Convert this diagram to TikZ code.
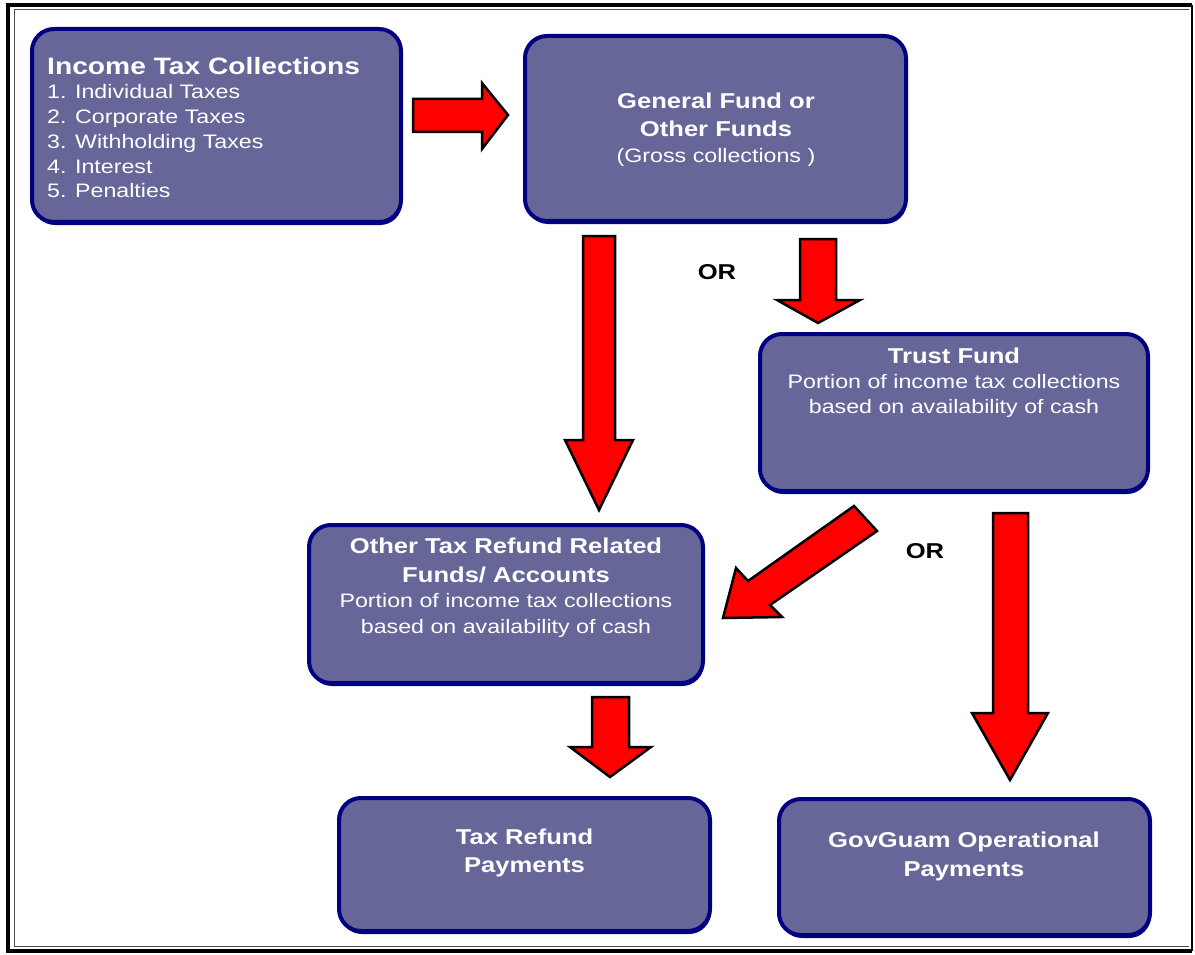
\documentclass[tikz,border=0pt]{standalone}
\usepackage{fontspec}
\setmainfont[FakeStretch=1.19]{Liberation Sans}
\usetikzlibrary{shadows}
\definecolor{boxfill}{HTML}{666699}
\definecolor{boxline}{HTML}{000080}
\newcommand\bft[1]{{\bfseries\fontsize{21.5}{25}\selectfont #1}}
\begin{document}
\begin{tikzpicture}[x=1pt,y=-1pt,
  fund/.style={draw=boxline, line width=4pt, fill=boxfill, rounded corners=22pt, inner sep=0pt,
    drop shadow={shadow xshift=1pt, shadow yshift=-3pt, fill=boxline, opacity=1}},
  blk/.style={draw=black, line width=2.5pt, fill=red, line join=miter},
  txt/.style={text=white, align=center, inner sep=0pt, anchor=base, font=\fontsize{19.5}{25}\selectfont},
  ortext/.style={font=\bfseries\fontsize{21.5}{26}\selectfont, inner sep=0pt, anchor=base}
]
\useasboundingbox (0,0) rectangle (1195,955);
% frame
\draw[line width=4pt] (1192,5) -- (8,5) -- (8,951) -- (1192,951);
\draw[line width=1.5pt] (1192,5) -- (1192,951);
\draw[line width=1pt, black!70] (1189,10) -- (14,10) -- (14,946) -- (1189,946);

% boxes
\node[fund, minimum width=369pt, minimum height=193pt] (income) at (216.5,125.5) {};
\node[fund, minimum width=381pt, minimum height=185pt] (general) at (715.5,128.5) {};
\node[fund, minimum width=388pt, minimum height=157pt] (trust) at (954,412.5) {};
\node[fund, minimum width=394pt, minimum height=158pt] (other) at (506,604) {};
\node[fund, minimum width=371pt, minimum height=133pt] (refund) at (524.5,864.5) {};
\node[fund, minimum width=371pt, minimum height=136pt] (govguam) at (964.5,867) {};

% texts (anchored at the baseline of their last line)
\node[txt, anchor=base west, align=left, font=\fontsize{19.5}{24.8}\selectfont] (incometxt) at (47,198)
  {{\bfseries\fontsize{23.7}{25}\selectfont Income Tax Collections}\\1. Individual Taxes\\2. Corporate Taxes\\3. Withholding Taxes\\4. Interest\\5. Penalties};
\node[txt, font=\fontsize{19.5}{26}\selectfont] (generaltxt) at (716,163)
  {\bft{General Fund or}\\[2pt]\bft{Other Funds}\\(Gross collections )};
\node[txt] (trusttxt) at (954,413)
  {\bft{Trust Fund}\\Portion of income tax collections\\based on availability of cash};
\node[txt] (othertxt) at (506,633)
  {\bft{Other Tax Refund Related}\\[4pt]\bft{Funds/ Accounts}\\Portion of income tax collections\\[1pt]based on availability of cash};
\node[txt] (refundtxt) at (524.5,872) {\bft{Tax Refund}\\[3pt]\bft{Payments}};
\node[txt] (govguamtxt) at (964,876) {\bft{GovGuam Operational}\\[4pt]\bft{Payments}};

\node[ortext] (or1) at (717,279) {OR};
\node[ortext] (or2) at (925,558) {OR};

% block arrows
\draw[blk] (413,99) -- (482,99) -- (482,83) -- (508,115) -- (482,149) -- (482,132) -- (413,132) -- cycle;
\draw[blk] (583,236) -- (615,236) -- (615,440) -- (633,440) -- (599,510) -- (565,440) -- (583,440) -- cycle;
\draw[blk] (800,239) -- (836,239) -- (836,300) -- (860,300) -- (818,323) -- (777,300) -- (800,300) -- cycle;
\draw[blk] (854,506) -- (877,531) -- (770,605) -- (782,617) -- (723,618) -- (736,568) -- (748,581) -- cycle;
\draw[blk] (592,697) -- (629,697) -- (629,747) -- (651,747) -- (610,777) -- (570,747) -- (592,747) -- cycle;
\draw[blk] (993,513) -- (1028,513) -- (1028,713) -- (1048,713) -- (1010,780) -- (972,713) -- (993,713) -- cycle;
\end{tikzpicture}
\end{document}
